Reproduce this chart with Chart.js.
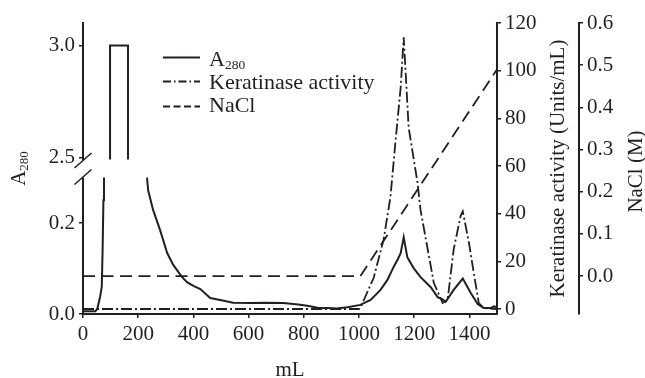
<!DOCTYPE html>
<html>
<head>
<meta charset="utf-8">
<script src="https://cdn.jsdelivr.net/npm/chart.js@4.4.1/dist/chart.umd.min.js"></script>
<style>
  html, body { margin: 0; padding: 0; background: #ffffff; }
  canvas { display: block; }
</style>
</head>
<body>
<canvas id="chart" width="645" height="378"></canvas>
<script>
const INK = '#231f20';
const SERIF = '"Liberation Serif", "Times New Roman", serif';

// Absorbance at 280 nm, lower part of the broken axis (null = leaves the panel)
const A280_LOW_ML = [0, 45, 52, 62, 68, 71, 74, 76, 150, 232, 236, 254, 279, 305, 327, 359, 377, 400, 425, 461, 497, 544, 606, 660, 726, 780, 813, 850, 886, 920, 958, 1005, 1042, 1078, 1103, 1125, 1140, 1151, 1162, 1175, 1198, 1223, 1260, 1285, 1300, 1314, 1343, 1376, 1405, 1430, 1452, 1466, 1477, 1489, 1500];
const A280_LOW = [0.006, 0.006, 0.012, 0.038, 0.06, 0.14, 0.25, 0.30, null, 0.30, 0.272, 0.229, 0.185, 0.134, 0.108, 0.081, 0.07, 0.062, 0.055, 0.035, 0.031, 0.025, 0.024, 0.025, 0.024, 0.021, 0.018, 0.014, 0.013, 0.012, 0.015, 0.02, 0.031, 0.053, 0.075, 0.103, 0.12, 0.134, 0.169, 0.125, 0.101, 0.081, 0.059, 0.037, 0.033, 0.027, 0.053, 0.078, 0.046, 0.022, 0.013, 0.013, 0.013, 0.017, 0.015];

// Saturated flow-through peak, upper part of the broken axis
const A280_HIGH_ML = [98, 98, 163, 163];
const A280_HIGH = [2.49, 3.0, 3.0, 2.49];

// Keratinase activity (Units/mL)
const KER_ML = [0, 1000, 1005, 1053, 1089, 1114, 1132, 1151, 1162, 1180, 1212, 1223, 1249, 1271, 1303, 1321, 1343, 1368, 1376, 1398, 1416, 1434, 1452, 1500];
const KER = [0, 0, 0.5, 13, 29, 47, 70, 93, 114, 76, 53, 41.5, 25, 11, 2.5, 3.8, 25, 39, 41, 28, 15, 2.5, 0.4, 0];

// NaCl gradient (M)
const NACL_ML = [0, 1005, 1500];
const NACL = [0, 0, 0.49];

// Tick labels
const X_TICKS = [0, 200, 400, 600, 800, 1000, 1200, 1400];
const A_LOW_TICKS = [0.0, 0.2];
const A_HIGH_TICKS = [2.5, 3.0];
const KER_TICKS = [0, 20, 40, 60, 80, 100, 120];
const NACL_TICKS = [0.0, 0.1, 0.2, 0.3, 0.4, 0.5, 0.6];

const pairs = (xs, ys) => xs.map((x, i) => ({ x, y: ys[i] }));
const fixedTicks = list => axis => { axis.ticks = list.map(value => ({ value })); };
const tickFont = { family: SERIF, size: 21 };

function axisBase(ticks, fmt, width) {
  return {
    type: 'linear',
    afterBuildTicks: fixedTicks(ticks),
    afterFit: s => { s.width = width; },
    border: { display: true, color: INK, width: 2 },
    grid: { display: true, drawOnChartArea: false, drawTicks: true, tickLength: 4, color: INK, lineWidth: 1.5 },
    ticks: { color: INK, font: tickFont, padding: 4, callback: fmt }
  };
}

// Draw a run of text pieces (main text + subscripts) rotated to read bottom-to-top
function rotatedRun(ctx, baseX, centerY, pieces) {
  ctx.save();
  ctx.translate(baseX, centerY);
  ctx.rotate(-Math.PI / 2);
  ctx.textBaseline = 'alphabetic';
  ctx.textAlign = 'left';
  let total = 0;
  for (const p of pieces) { ctx.font = p.size + 'px ' + SERIF; total += ctx.measureText(p.text).width; }
  let u = -total / 2;
  for (const p of pieces) {
    ctx.font = p.size + 'px ' + SERIF;
    ctx.fillText(p.text, u, p.shift || 0);
    u += ctx.measureText(p.text).width;
  }
  ctx.restore();
}

const decorations = {
  id: 'decorations',
  afterDraw(chart) {
    const { ctx } = chart;
    const { yLow, yHigh, yK, yN } = chart.scales;
    ctx.save();

    // Break in the left axis
    const ax = yLow.right;
    const yb = yHigh.bottom;
    ctx.fillStyle = '#ffffff';
    ctx.fillRect(ax - 3, yb - 8, 6, 17);
    ctx.strokeStyle = INK;
    ctx.lineWidth = 1.5;
    for (const dy of [-8, 8.5]) {
      ctx.beginPath();
      ctx.moveTo(ax - 8.5, yb + dy + 7.5);
      ctx.lineTo(ax + 8.5, yb + dy - 7.5);
      ctx.stroke();
    }

    // Axis titles
    ctx.fillStyle = INK;
    const midY = (yHigh.top + yLow.bottom) / 2;
    rotatedRun(ctx, 25, midY, [{ text: 'A', size: 21 }, { text: '280', size: 13, shift: 2.5 }]);
    rotatedRun(ctx, yK.right - 15, midY, [{ text: 'Keratinase activity (Units/mL)', size: 21 }]);
    rotatedRun(ctx, yN.right - 3, midY + 3, [{ text: 'NaCl (M)', size: 21 }]);

    // Legend
    const lx0 = 163, lx1 = 200, tx = 209;
    const rows = [
      { y: 57.5, base: 66, dash: [], main: 'A', sub: '280' },
      { y: 81.5, base: 88.5, dash: [8, 3, 1.5, 3], main: 'Keratinase activity' },
      { y: 106.5, base: 111.7, dash: [7, 3.5], main: 'NaCl' }
    ];
    ctx.textAlign = 'left';
    ctx.textBaseline = 'alphabetic';
    for (const r of rows) {
      ctx.setLineDash(r.dash);
      ctx.lineWidth = 2;
      ctx.beginPath();
      ctx.moveTo(lx0, r.y);
      ctx.lineTo(lx1, r.y);
      ctx.stroke();
      ctx.setLineDash([]);
      ctx.font = '22px ' + SERIF;
      ctx.fillText(r.main, tx, r.base);
      if (r.sub) {
        const w = ctx.measureText(r.main).width;
        ctx.font = '13.5px ' + SERIF;
        ctx.fillText(r.sub, tx + w, r.base + 2.5);
      }
    }
    ctx.restore();
  }
};

const lineStyle = { borderColor: INK, pointRadius: 0, tension: 0, fill: false, spanGaps: false };

new Chart(document.getElementById('chart'), {
  type: 'line',
  data: {
    datasets: [
      { ...lineStyle, label: 'A280', data: pairs(A280_LOW_ML, A280_LOW), yAxisID: 'yLow', borderWidth: 2 },
      { ...lineStyle, label: 'A280 (high)', data: pairs(A280_HIGH_ML, A280_HIGH), yAxisID: 'yHigh', borderWidth: 2 },
      { ...lineStyle, label: 'Keratinase activity', data: pairs(KER_ML, KER), yAxisID: 'yK', borderWidth: 1.8, borderDash: [11, 3, 2, 3] },
      { ...lineStyle, label: 'NaCl', data: pairs(NACL_ML, NACL), yAxisID: 'yN', borderWidth: 1.8, borderDash: [12, 6.5] }
    ]
  },
  options: {
    responsive: false,
    animation: false,
    devicePixelRatio: 1,
    layout: { padding: { top: 23, right: 0, bottom: 0, left: 0 } },
    plugins: { legend: { display: false }, tooltip: { enabled: false } },
    scales: {
      x: {
        type: 'linear', min: 0, max: 1500,
        afterBuildTicks: fixedTicks(X_TICKS),
        afterFit: s => { s.height = 64; },
        border: { display: true, color: INK, width: 2 },
        grid: { display: true, drawOnChartArea: false, drawTicks: true, tickLength: 4, color: INK, lineWidth: 1.5 },
        ticks: { color: INK, font: tickFont, padding: 3.5, maxRotation: 0, callback: v => String(v) },
        title: { display: true, text: 'mL', color: INK, font: { family: SERIF, size: 21, lineHeight: '16px' }, padding: 0 }
      },
      yLow: Object.assign(axisBase(A_LOW_TICKS, v => v.toFixed(1), 83), {
        position: 'left', stack: 'a280', stackWeight: 1, weight: 0, min: 0, max: 0.32
      }),
      yHigh: Object.assign(axisBase(A_HIGH_TICKS, v => v.toFixed(1), 83), {
        position: 'left', stack: 'a280', stackWeight: 1, weight: 1, min: 2.45, max: 3.10
      }),
      yK: Object.assign(axisBase(KER_TICKS, v => String(v), 82), {
        position: 'right', weight: 0, min: -2.1, max: 120
      }),
      yN: Object.assign(axisBase(NACL_TICKS, v => v.toFixed(1), 66), {
        position: 'right', weight: 1, min: -0.09, max: 0.6
      })
    }
  },
  plugins: [decorations]
});
</script>
</body>
</html>
